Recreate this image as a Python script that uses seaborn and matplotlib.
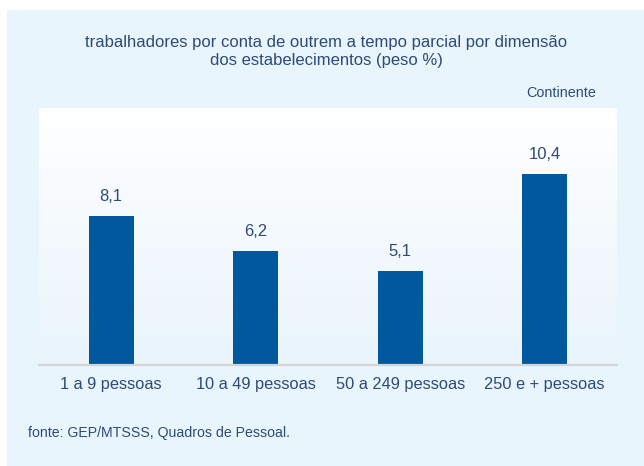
import matplotlib
matplotlib.use("Agg")
import matplotlib.pyplot as plt
import seaborn as sns
import numpy as np
import pandas as pd
from matplotlib.patches import Rectangle
from matplotlib.colors import LinearSegmentedColormap

categories = ["1 a 9 pessoas", "10 a 49 pessoas", "50 a 249 pessoas", "250 e + pessoas"]
values = [8.1, 6.2, 5.1, 10.4]
value_labels = ["8,1", "6,2", "5,1", "10,4"]

title = "trabalhadores por conta de outrem a tempo parcial por dimensão\ndos estabelecimentos (peso %)"
region = "Continente"
source = "fonte: GEP/MTSSS, Quadros de Pessoal."

sns.set_theme(style="white")
plt.rcParams['font.family'] = ['Liberation Sans', 'DejaVu Sans']

txt = "#2E4A77"
bar_color = "#00589D"
bg = "#E8F5FD"

W, H = 644, 466
fig = plt.figure(figsize=(W/100, H/100), dpi=100)
fig.patch.set_facecolor("white")
fig.patches.append(Rectangle((7/W, 0), 1 - 7/W, 1 - 10/H, transform=fig.transFigure,
                             facecolor=bg, edgecolor="none", zorder=-10))

left, right, top, bottom = 39, 617, 108, 365
ax = fig.add_axes([left/W, 1 - bottom/H, (right-left)/W, (bottom-top)/H])
ax.set_facecolor("white")

# vertical gradient white (top) -> light blue (bottom) in plot area
grad = np.linspace(0, 1, 256).reshape(-1, 1)
cmap = LinearSegmentedColormap.from_list("g", ["#FFFFFF", "#E9F4FC"])
ax.imshow(grad, extent=[0, 1, 0, 1], transform=ax.transAxes, aspect="auto",
          cmap=cmap, origin="upper", zorder=0)

df = pd.DataFrame({"cat": categories, "val": values})
sns.barplot(data=df, x="cat", y="val", color=bar_color, width=0.31, saturation=1,
            ax=ax, zorder=2)
for p in ax.patches:
    p.set_edgecolor("none")

ax.set_xlim(-0.5, 3.5)
ax.set_ylim(0, 14)
ax.set_xlabel("")
ax.set_ylabel("")
ax.set_yticks([])
for s in ["top", "right", "left"]:
    ax.spines[s].set_visible(False)
ax.spines["bottom"].set_color("#D4D4D4")
ax.spines["bottom"].set_linewidth(1.6)
ax.spines["bottom"].set_zorder(3)

ax.set_xticks(range(len(categories)))
ax.set_xticklabels(categories, fontsize=11.8, color=txt)
ax.tick_params(axis="x", which="major", length=0, pad=9)
ax.set_xticks(np.arange(-0.5, 4, 1), minor=True)
ax.tick_params(axis="x", which="minor", length=4, width=1.4, color="#D4D4D4", direction="out")

ax.bar_label(ax.containers[0], labels=value_labels, padding=9, fontsize=12, color=txt)

fig.text(326/W, 1 - 51/H, title, ha="center", va="center", fontsize=12, color=txt,
         linespacing=1.25)
fig.text(596/W, 1 - 93/H, region, ha="right", va="center", fontsize=10.4, color=txt)
fig.text(28/W, 1 - 433/H, source, ha="left", va="center", fontsize=10.2, color=txt)

fig.savefig("out.png", dpi=100)
